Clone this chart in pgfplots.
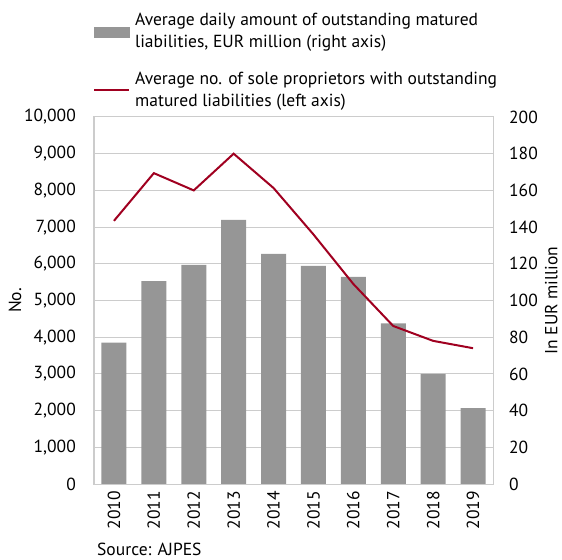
\documentclass[border=0pt]{standalone}
\usepackage{fontspec}
\setmainfont{PT Sans}
\usepackage{pgfplots}
\pgfplotsset{compat=1.18}
\definecolor{barc}{RGB}{150,150,150}
\definecolor{linec}{RGB}{160,0,32}
\definecolor{gridc}{RGB}{204,204,204}
\begin{document}
\fontsize{17.5bp}{22bp}\selectfont
\begin{tikzpicture}
\pgfplotsset{
  common/.style={
    scale only axis, width=399bp, height=367bp,
    xmin=-0.5, xmax=9.5, ymin=0,
    major tick length=0pt,
    axis line style={gridc, line width=1bp},
    tick label style={font=\fontsize{17.5bp}{21bp}\selectfont, inner sep=0pt},
    label style={font=\fontsize{17.5bp}{21bp}\selectfont, inner sep=0pt},
    /pgf/number format/assume math mode=true,
    /pgf/number format/1000 sep={,},
    scaled y ticks=false,
    xticklabel shift=7bp,
  }
}
\begin{axis}[common, ymax=200, ytick={0,20,...,200},
  ytick pos=right, yticklabel pos=right, yticklabel shift=16bp,
  ymajorgrids, grid style={gridc, line width=1bp},
  xtick={0,1,2,3,4,5,6,7,8,9},
  xticklabels={2010,2011,2012,2013,2014,2015,2016,2017,2018,2019},
  x tick label style={rotate=90, anchor=east},
  ylabel={In EUR million},
  ylabel style={at={(axis description cs:1.146,0.5)}, anchor=center},
]
\addplot[ybar, bar width=25bp, fill=barc, draw=none] coordinates {
(0,77.1) (1,110.5) (2,119.4) (3,144) (4,125.4) (5,118.9) (6,112.9) (7,87.6) (8,60) (9,41.3)};
\end{axis}
\begin{axis}[common, ymax=10000, ytick={0,1000,...,10000},
  ytick pos=left, xtick=\empty, yticklabel shift=18bp,
  ylabel={No.},
  ylabel style={at={(axis description cs:-0.198,0.5)}, anchor=center},
  legend style={at={(axis description cs:0,1)}, anchor=north west, xshift=-1bp, yshift=104bp,
    draw=none, fill=none, inner sep=0pt, row sep=13bp, column sep=5bp,
    nodes={inner sep=0pt},
    font=\fontsize{17.5bp}{22bp}\selectfont, cells={align=left, anchor=west}},
]
\addlegendimage{legend image code/.code={\fill[barc] (0bp,-5bp) rectangle (35bp,5bp); \path (0bp,-27bp);}}
\addlegendentry{Average daily amount of outstanding matured\\liabilities, EUR million (right axis)}
\addplot[linec, line width=2bp, legend image code/.code={\draw[linec, line width=2bp] (0bp,0bp) -- (35bp,0bp); \path (0bp,-22bp);}] coordinates {
(0,7170) (1,8470) (2,8000) (3,9000) (4,8065) (5,6800) (6,5450) (7,4305) (8,3900) (9,3700)};
\addlegendentry{Average no. of sole proprietors with outstanding\\matured liabilities (left axis)}
\end{axis}
\node[anchor=base west, font=\fontsize{17.5bp}{21bp}\selectfont, inner sep=0pt] at (3bp,-71bp) {Source: AJPES};
\path (-94bp,-76bp) rectangle (468bp,484bp);
\end{tikzpicture}
\end{document}
